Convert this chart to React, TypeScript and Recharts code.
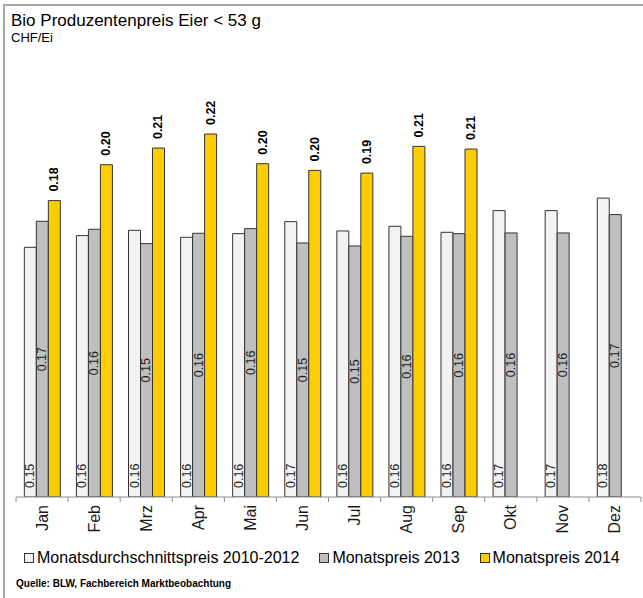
import { Bar, BarChart, LabelList, XAxis, YAxis } from "recharts";

const months = ["Jan", "Feb", "Mrz", "Apr", "Mai", "Jun", "Jul", "Aug", "Sep", "Okt", "Nov", "Dez"];
const avg2010to2012 = [0.1497, 0.1567, 0.1599, 0.1557, 0.1579, 0.1651, 0.1595, 0.1623, 0.1587, 0.1717, 0.1717, 0.1792];
const price2013 = [0.1653, 0.1605, 0.1519, 0.1581, 0.1609, 0.1523, 0.1505, 0.1563, 0.1579, 0.1583, 0.1583, 0.1693];
const price2014 = [0.1777, 0.1992, 0.2092, 0.2176, 0.1998, 0.1958, 0.1942, 0.2102, 0.2086, null, null, null];
const seriesNames = ["Monatsdurchschnittspreis 2010-2012", "Monatspreis 2013", "Monatspreis 2014"];

const data = months.map((m, i) => ({
  month: m,
  avg: avg2010to2012[i],
  y2013: price2013[i],
  y2014: price2014[i],
}));

const FONT = '"Liberation Sans", Arial, sans-serif';
const COLORS = ["#f2f2f2", "#bfbfbf", "#ffcc00"];
const BAND = 625 / 12;

function MonthTick(props: any) {
  const { x, y, payload, index } = props;
  const left = x - BAND / 2;
  return (
    <g>
      <line x1={left} x2={left} y1={y - 8} y2={y - 3} stroke="#8c8c8c" />
      {index === months.length - 1 && (
        <line x1={x + BAND / 2} x2={x + BAND / 2} y1={y - 8} y2={y - 3} stroke="#8c8c8c" />
      )}
      <text
        x={x}
        y={y}
        transform={`rotate(-90, ${x}, ${y})`}
        textAnchor="end"
        dominantBaseline="central"
        fontSize={16}
        fontFamily={FONT}
        fill="#1a1a1a"
      >
        {payload.value}
      </text>
    </g>
  );
}

// value labels, all turned by -90 like in the original
function bottomLabel(props: any) {
  const { value } = props;
  if (value == null) return null;
  const cx = Number(props.x) + Number(props.width) / 2;
  const by = Number(props.y) + Number(props.height) - 9;
  return (
    <text x={cx} y={by} transform={`rotate(-90, ${cx}, ${by})`} textAnchor="start"
      dominantBaseline="central" fontSize={12.5} fontFamily={FONT} fill="#1a1a1a">
      {Number(value).toFixed(2)}
    </text>
  );
}

function middleLabel(props: any) {
  const { value } = props;
  if (value == null) return null;
  const cx = Number(props.x) + Number(props.width) / 2;
  const my = Number(props.y) + Number(props.height) / 2;
  return (
    <text x={cx} y={my} transform={`rotate(-90, ${cx}, ${my})`} textAnchor="middle"
      dominantBaseline="central" fontSize={12.5} fontFamily={FONT} fill="#1a1a1a">
      {Number(value).toFixed(2)}
    </text>
  );
}

function topLabel(props: any) {
  const { value } = props;
  if (value == null) return null;
  const cx = Number(props.x) + Number(props.width) / 2;
  const ty = Number(props.y) - 9;
  return (
    <text x={cx} y={ty} transform={`rotate(-90, ${cx}, ${ty})`} textAnchor="start"
      dominantBaseline="central" fontSize={12.5} fontWeight="bold" fontFamily={FONT} fill="#000">
      {Number(value).toFixed(2)}
    </text>
  );
}

export default function App() {
  return (
    <div style={{ position: "absolute", left: 0, top: 0, width: 643, height: 598, background: "#fff", fontFamily: FONT, color: "#000", overflow: "hidden" }}>
      <div style={{ position: "absolute", left: 3, top: 4, width: 660, height: 620, borderTop: "2px solid #a8a8a8", borderLeft: "2px solid #a8a8a8" }} />
      <div style={{ position: "absolute", left: 11, top: 11, fontSize: 17, lineHeight: "19px", whiteSpace: "nowrap" }}>
        Bio Produzentenpreis Eier &lt; 53 g
      </div>
      <div style={{ position: "absolute", left: 11, top: 30, fontSize: 13, lineHeight: "15px" }}>CHF/Ei</div>

      <div style={{ position: "absolute", left: 0, top: 0 }}>
        <BarChart width={643} height={598} data={data} margin={{ top: 80, right: 2, left: 16, bottom: 61 }}
          barCategoryGap="16%" barGap={0}>
          <YAxis hide domain={[0, 0.25]} allowDataOverflow />
          <XAxis dataKey="month" height={40} interval={0} tickLine={false} tickSize={6} tickMargin={2}
            axisLine={{ stroke: "#8c8c8c" }} tick={<MonthTick />} />
          <Bar dataKey="avg" name={seriesNames[0]} fill={COLORS[0]} stroke="#333" strokeWidth={1} isAnimationActive={false}>
            <LabelList dataKey="avg" content={bottomLabel} />
          </Bar>
          <Bar dataKey="y2013" name={seriesNames[1]} fill={COLORS[1]} stroke="#333" strokeWidth={1} isAnimationActive={false}>
            <LabelList dataKey="y2013" content={middleLabel} />
          </Bar>
          <Bar dataKey="y2014" name={seriesNames[2]} fill={COLORS[2]} stroke="#333" strokeWidth={1} isAnimationActive={false}>
            <LabelList dataKey="y2014" content={topLabel} />
          </Bar>
        </BarChart>
      </div>

      <div style={{ position: "absolute", left: 24, top: 549, display: "flex", gap: 20, fontSize: 16, lineHeight: "18px", whiteSpace: "nowrap" }}>
        {seriesNames.map((name, i) => (
          <div key={name} style={{ display: "flex", alignItems: "center" }}>
            <span style={{ display: "inline-block", width: 8, height: 8, background: COLORS[i], border: "1px solid #333", marginRight: 3 }} />
            {name}
          </div>
        ))}
      </div>

      <div style={{ position: "absolute", left: 16, top: 578, fontSize: 10, lineHeight: "12px", fontWeight: "bold", whiteSpace: "nowrap" }}>
        Quelle: BLW, Fachbereich Marktbeobachtung
      </div>
    </div>
  );
}
